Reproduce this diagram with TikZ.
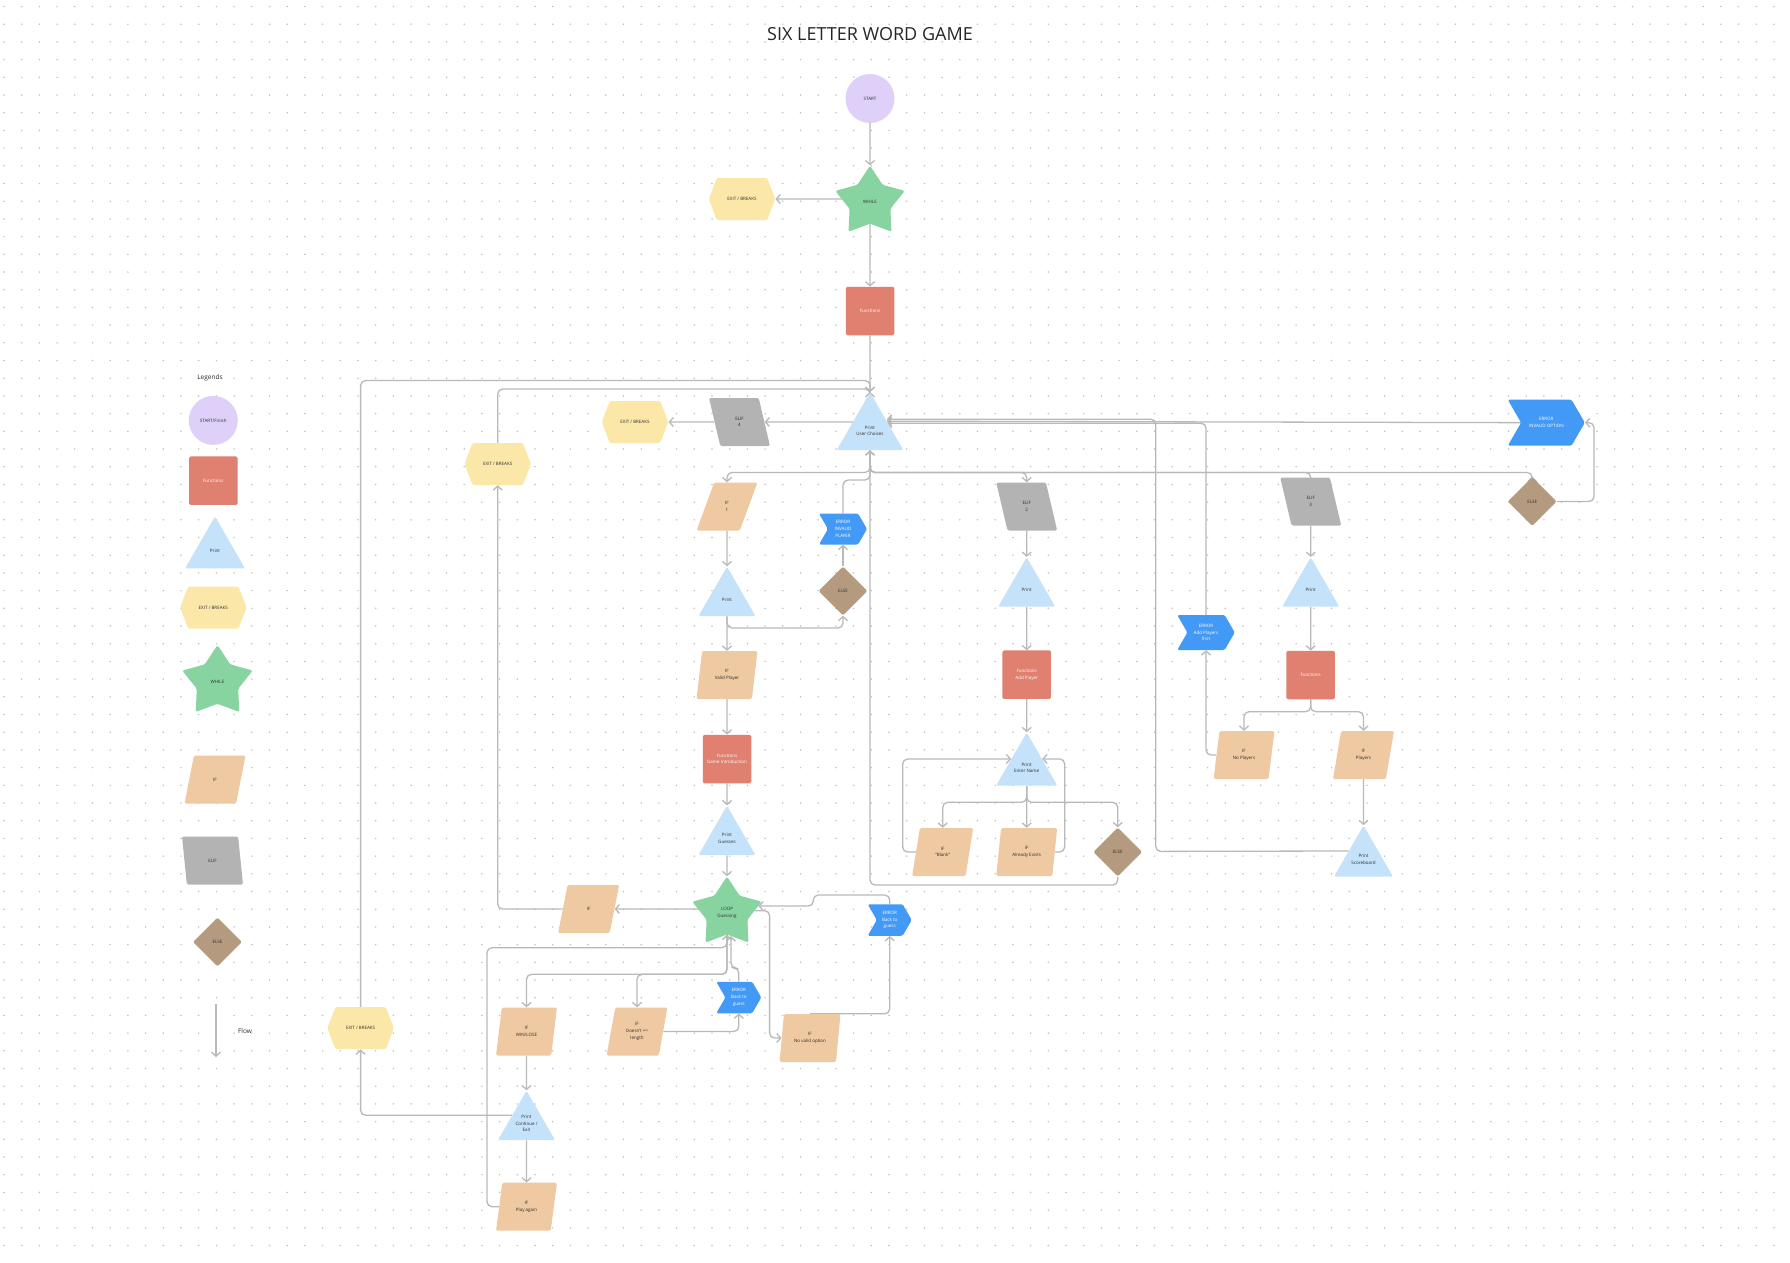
\documentclass[tikz,border=0pt]{standalone}
\usepackage{fontspec}
\setmainfont{Open Sans}
\usetikzlibrary{shapes.geometric,shapes.symbols,arrows.meta,calc}

\definecolor{startc}{RGB}{223,208,250}
\definecolor{funcc}{RGB}{224,128,112}
\definecolor{printc}{RGB}{197,226,251}
\definecolor{exitc}{RGB}{251,232,168}
\definecolor{loopc}{RGB}{136,212,160}
\definecolor{ifc}{RGB}{238,201,161}
\definecolor{elifc}{RGB}{179,179,179}
\definecolor{elsec}{RGB}{180,155,127}
\definecolor{errc}{RGB}{67,153,246}
\definecolor{linec}{RGB}{185,185,185}
\definecolor{dotc}{RGB}{192,192,192}
\definecolor{txtc}{RGB}{45,45,45}

\newcommand\shapefont{\fontsize{4.5}{6.7}\selectfont}

\pgfdeclarelayer{dots}
\pgfdeclarelayer{edges}
\pgfsetlayers{dots,edges,main}

\tikzset{
  shapebox/.style={inner sep=0pt, align=center, font=\shapefont, text=txtc, rounded corners=1.5pt},
  startnode/.style={shapebox, circle, fill=startc, minimum size=49pt},
  funcnode/.style={shapebox, rectangle, fill=funcc, text=white, minimum size=48.5pt},
  printnode/.style={shapebox, regular polygon, regular polygon sides=3, fill=printc, minimum size=65.8pt},
  exitnode/.style={shapebox, signal, signal to=east and west, signal pointer angle=138, fill=exitc, minimum width=66.5pt, minimum height=42pt},
  loopnode/.style={shapebox, star, star points=5, star point ratio=1.7, fill=loopc, minimum size=73pt},
  ifnode/.style={shapebox, trapezium, trapezium left angle=76, trapezium right angle=104, trapezium stretches=true, fill=ifc, minimum width=61pt, minimum height=48pt},
  elifnode/.style={shapebox, trapezium, trapezium left angle=104, trapezium right angle=76, trapezium stretches=true, fill=elifc, minimum width=61pt, minimum height=48pt},
  elsenode/.style={shapebox, diamond, fill=elsec, minimum size=49pt},
  errnode/.style={shapebox, signal, signal from=west, signal to=east, signal pointer angle=120, fill=errc, text=white},
  flow/.style={draw=linec, line width=1.3pt, rounded corners=5pt, -{Straight Barb[length=4pt,width=9pt]}},
  legendtext/.style={font=\fontsize{6.5}{8}\selectfont, text=txtc},
}

\begin{document}
\begin{tikzpicture}[x=1pt, y=-1pt]
\useasboundingbox (0,0) rectangle (1790,1262);
\begin{pgfonlayer}{dots}
\fill[white] (0,0) rectangle (1790,1262);
\foreach \j in {0,...,70}
  \draw[dotc, line width=1.7pt, line cap=round, dash pattern=on 0pt off 17.7pt] (4,6.5+17.7*\j) -- (1790,6.5+17.7*\j);
\end{pgfonlayer}

% title
\node[font=\fontsize{18}{20}\selectfont, text=black!85] (title) at (870,34) {SIX LETTER WORD GAME};

% legend
\node[legendtext] (legtitle) at (210,378) {Legends};
\node[startnode] (lstart) at (213.3,420.4) {START/Finish};
\node[funcnode] (lfunc) at (213.3,480.7) {Functions};
\node[printnode, minimum size=69pt] (lprint) at (215,551) {Print};
\node[exitnode] (lexit) at (213.3,607.5) {EXIT / BREAKS};
\node[loopnode, minimum size=74pt] (lwhile) at (217.5,682) {WHILE};
\node[ifnode] (lif) at (215,779.5) {IF};
\node[elifnode] (lelif) at (212.5,860.5) {ELIF};
\node[elsenode] (lelse) at (217.5,942) {ELSE};
\node[legendtext] (flowlabel) at (245,1031) {Flow};
\coordinate (flowtop) at (216,1004);
\coordinate (flowend) at (216,1057);

% start and menu
\node[startnode] (start) at (870,98.5) {START};
\node[loopnode] (while) at (870,202.2) {WHILE};
\node[exitnode] (exit1) at (742,199) {EXIT / BREAKS};
\node[funcnode] (func1) at (870,311) {Functions};
\node[printnode] (menu) at (870,430.9) {Print\\User Choices};
\node[elifnode] (elif4) at (739.5,422) {ELIF\\4};
\node[exitnode] (exit2) at (635,422) {EXIT / BREAKS};
\node[exitnode] (exit3) at (497.7,464) {EXIT / BREAKS};

% option 1
\node[ifnode] (if1) at (727,506.5) {IF\\1};
\node[errnode, minimum width=48pt, minimum height=31pt] (errplayer) at (843,529) {ERROR\\INVALID\\PLAYER};
\node[elsenode] (else1) at (843,591) {ELSE};
\node[printnode] (print1) at (727,599.6) {Print};
\node[ifnode] (ifvalid) at (727,675) {IF\\Valid Player};
\node[funcnode] (funcintro) at (727,759) {Functions\\Game Introduction};
\node[printnode] (printguess) at (727,838.6) {Print\\Guesses};
\node[loopnode] (loop) at (727,913) {LOOP\\Guessing};
\node[ifnode] (ifexit) at (588.6,909) {IF};
\node[errnode, minimum width=44pt, minimum height=31.5pt] (errguess1) at (889.7,920) {ERROR\\Back to\\guess};
\node[errnode, minimum width=45pt, minimum height=31.5pt] (errguess2) at (738.8,997.5) {ERROR\\Back to\\guess};
\node[ifnode] (ifwin) at (526.5,1031.5) {IF\\WIN/LOSE};
\node[ifnode] (iflen) at (637,1031.5) {IF\\Doesn't ==\\length};
\node[ifnode] (ifnovalid) at (810,1038) {IF\\No valid option};
\node[printnode] (printcont) at (526.5,1123.6) {Print\\Continue /\\Exit};
\node[exitnode] (exit4) at (360.6,1028.2) {EXIT / BREAKS};
\node[ifnode] (ifagain) at (526.5,1206.7) {IF\\Play again};

% option 2
\node[elifnode] (elif2) at (1026.7,506.5) {ELIF\\2};
\node[printnode] (print2) at (1026.7,590.2) {Print};
\node[funcnode] (funcadd) at (1026.7,674.7) {Functions\\Add Player};
\node[printnode] (printname) at (1026.7,767.9) {Print\\Enter Name};
\node[ifnode] (ifblank) at (942.7,852) {IF\\"Blank"};
\node[ifnode] (ifexists) at (1026.7,852) {IF\\Already Exists};
\node[elsenode] (else2) at (1117.7,852) {ELSE};

% option 3
\node[elifnode] (elif3) at (1310.7,501.5) {ELIF\\3};
\node[printnode] (print3) at (1310.7,590.2) {Print};
\node[funcnode] (func3) at (1310.7,675) {Functions};
\node[ifnode] (ifnoplayers) at (1244,755) {IF\\No Players};
\node[ifnode] (ifplayers) at (1363.5,755) {IF\\Players};
\node[errnode, minimum width=57.5pt, minimum height=35pt] (errfirst) at (1206,632.5) {ERROR\\Add Players\\first};
\node[printnode] (printscore) at (1363.5,859.6) {Print\\Scoreboard};
\node[elsenode] (else3) at (1532.2,501.5) {ELSE};
\node[errnode, minimum width=77pt, minimum height=46pt] (erroption) at (1546.3,422.7) {ERROR\\INVALID OPTION};

% turning points
\coordinate (topbus1) at (870,380.5);
\coordinate (topbus2) at (870,389);
\coordinate (menuR) at ($(menu.corner 1)!.5!(menu.corner 3)$);
\coordinate (menubus) at (870,472.5);
\coordinate (plbus) at (870,480);
\coordinate (scoreL) at ($(printscore.corner 1)!.5!(printscore.corner 2)$);
\coordinate (sbturn) at (1155.7,851.4);
\coordinate (optturn) at (1594,501.5);
\coordinate (f3bus) at (1310.7,711.7);
\coordinate (namebus) at (1026.7,802.3);
\coordinate (nameL) at ($(printname.corner 1)!.5!(printname.corner 2)$);
\coordinate (nameR) at ($(printname.corner 1)!.5!(printname.corner 3)$);
\coordinate (loopR1) at (758.3,906);
\coordinate (loopR2) at (754.6,910.7);
\coordinate (g1turn) at (813.3,906);
\coordinate (loopbus) at (727,974.3);
\coordinate (againturn) at (727,947.7);
\coordinate (contL) at ($(printcont.corner 1)!.5!(printcont.corner 2)$);

\begin{pgfonlayer}{edges}
\draw[flow] (flowtop) -- (flowend);
% top
\draw[flow] (start) -- (while);
\draw[flow] (while.center |- exit1) -- (exit1);
\draw[flow] (while) -- (func1);
\draw[flow] (func1) -- (menu);
\draw[flow] (exit4) |- (topbus1) -- (menu);
\draw[flow] (exit3) |- (topbus2) -- (menu);
\draw[flow] (menu.center |- elif4) -- (elif4);
\draw[flow] (elif4) -- (exit2);
\draw[flow] (erroption) -- (menuR);
\draw[flow] (errfirst) |- ([yshift=-2pt]menuR);
\draw[flow] (scoreL) -- (sbturn) |- ([yshift=2pt]menuR);
\draw[flow] (menu) -- (menubus) -| (if1);
\draw[flow] (menu) -- (menubus) -| (elif2);
\draw[flow] (menu) -- (menubus) -| (elif3);
\draw[flow] (menu) -- (menubus) -| (else3);
\draw[flow] (errplayer) |- (plbus) -- (menu);
\draw[flow] (else2) -- ++(0,33) -| (menu);
% option 1
\draw[flow] (if1) -- (print1);
\draw[flow] (print1) -- ++(0,28.4) -| (else1);
\draw[flow] (print1) -- (ifvalid);
\draw[flow] (else1) -- (errplayer);
\draw[flow] (ifvalid) -- (funcintro);
\draw[flow] (funcintro) -- (printguess);
\draw[flow] (printguess) -- (loop);
\draw[flow] (loop.center |- ifexit) -- (ifexit);
\draw[flow] (ifexit) -| (exit3);
\draw[flow] (errguess1) -- ++(0,-25) -| (g1turn) -- (loopR1);
\draw[flow] (loopR2) -- ++(15,0) |- (ifnovalid);
\draw[flow] (ifnovalid.north) -| (errguess1);
\draw[flow] (loop) -- (loopbus) -| (ifwin);
\draw[flow] (loop) -- (loopbus) -| (iflen);
\draw[flow] (ifagain) -- ++(-39.5,0) |- (againturn) -- (loop);
\draw[flow] (errguess2) -- ++(0,-29.5) -| ([xshift=4pt,yshift=-1.5pt]loop.south);
\draw[flow] (iflen) -| (errguess2);
\draw[flow] (ifwin) -- (printcont);
\draw[flow] (contL) -| (exit4);
\draw[flow] (printcont) -- (ifagain);
% option 2
\draw[flow] (elif2) -- (print2);
\draw[flow] (print2) -- (funcadd);
\draw[flow] (funcadd) -- (printname);
\draw[flow] (printname) -- (namebus) -| (ifblank);
\draw[flow] (printname) -- (ifexists);
\draw[flow] (printname) -- (namebus) -| (else2);
\draw[flow] (ifblank) -- ++(-40,0) |- (nameL);
\draw[flow] (ifexists) -- ++(38,0) |- (nameR);
% option 3
\draw[flow] (elif3) -- (print3);
\draw[flow] (print3) -- (func3);
\draw[flow] (func3) -- (f3bus) -| (ifnoplayers);
\draw[flow] (func3) -- (f3bus) -| (ifplayers);
\draw[flow] (ifnoplayers) -| (errfirst);
\draw[flow] (ifplayers) -- (printscore);
\draw[flow] (else3) -- (optturn) |- (erroption);
\end{pgfonlayer}
\end{tikzpicture}
\end{document}
